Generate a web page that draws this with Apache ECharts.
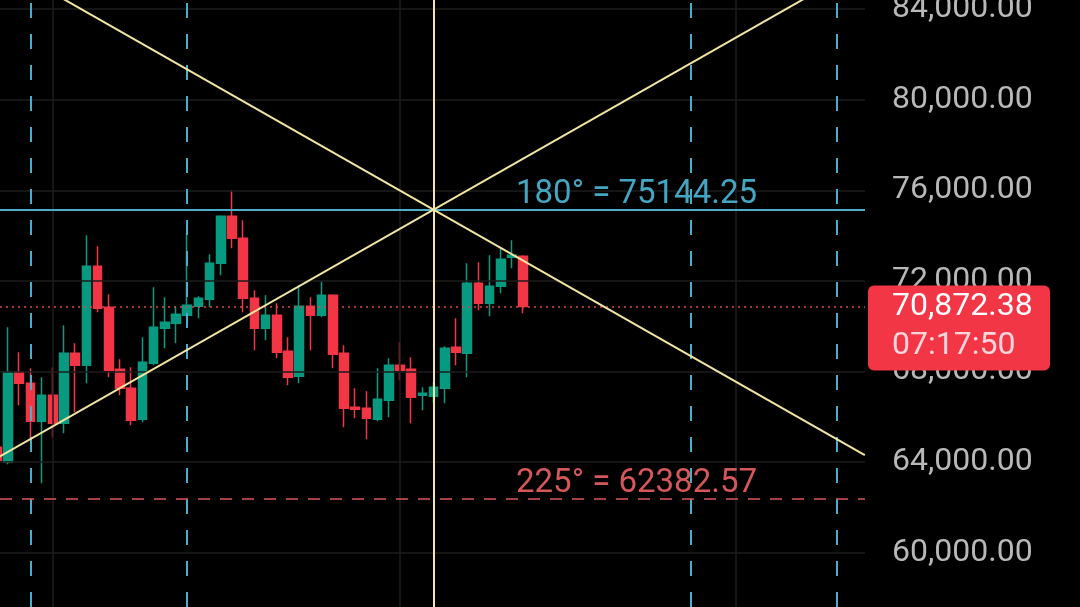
<!DOCTYPE html>
<html>
<head>
<meta charset="utf-8">
<script src="https://cdn.jsdelivr.net/npm/echarts@6/dist/echarts.min.js"></script>
<style>
html,body{margin:0;padding:0;background:#000;}
#c{width:1080px;height:607px;}
</style>
</head>
<body>
<div id="c"></div>
<script>
// ---- data ----
const opens  = [64653, 63992, 67965, 67479, 65801, 66949, 65713, 68804, 68274, 72645, 70835, 68097, 67258, 65890, 68362, 69908, 70128, 70481, 70879, 71188, 72777, 74852, 73881, 71232, 69908, 70481, 68892, 67788, 70879, 70481, 71364, 68804, 66420, 66375, 65890, 66729, 68274, 68097, 66949, 66905, 67258, 69069, 68804, 71894, 71011, 71762, 73042, 73087];
const closes = [64079, 67965, 67479, 65801, 66949, 65713, 68804, 68274, 72645, 70790, 68053, 67258, 65845, 68406, 69952, 70172, 70525, 70923, 71232, 72777, 74852, 73881, 71232, 69908, 70481, 68848, 67744, 70879, 70481, 71364, 68760, 66375, 66331, 65934, 66773, 68274, 68053, 66861, 67038, 67303, 69024, 68848, 71894, 71011, 71762, 72954, 73131, 70872.38];
const lows   = [63947, 63900, 66508, 64963, 63064, 65095, 65272, 66199, 67479, 70614, 67744, 66949, 65625, 65758, 68274, 69024, 69245, 70393, 70349, 70835, 72247, 73440, 70614, 68936, 69378, 68583, 67391, 67479, 68936, 70393, 68141, 65536, 65934, 65007, 65801, 65978, 67612, 65713, 66287, 66597, 66597, 68274, 67744, 70702, 70437, 71453, 72557, 70569];
const highs  = [65051, 69952, 68848, 68141, 67744, 68185, 70040, 69245, 74013, 73528, 71409, 68539, 68185, 69510, 71718, 71276, 70879, 74101, 71320, 73175, 74896, 76000, 74676, 71585, 71364, 71011, 69510, 71806, 71276, 71982, 71409, 69157, 67258, 67126, 68141, 68583, 69290, 68627, 67303, 67524, 69113, 70349, 72777, 72821, 73131, 73440, 73792, 73131];
const yTicks = [60000, 64000, 68000, 72000, 76000, 80000, 84000];
const lastPrice = 70872.38;
const countdown = '07:17:50';
const level180 = 75144.25;
const level225 = 62382.57;
const label180 = '180° = 75144.25';
const label225 = '225° = 62382.57';
const pivotIndex = 39;
const fanDownX = [-0.5, 77.5];
const fanDownY = [86259, 64310];
const fanUpX = [-0.5, 77.5];
const fanUpY = [64029, 85978];
const cycleLines = [3, 17, 62, 75];
const monthLines = [5, 36, 66];
const xMin = 0.2857, xMax = 77.518;    // visible bar-index window
const yMin = 57600, yMax = 84400;      // visible price window

// ---- build ----
const candleData = opens.map((o, i) => [i, o, closes[i], lows[i], highs[i]]);

const UP = '#089981', DOWN = '#f23645';
const BLUE = '#4aaecb', YEL = '#f2e6a2', GRID = '#1c1c1c';
const FONT = 'Roboto';

const chart = echarts.init(document.getElementById('c'), null, {renderer: 'canvas'});
const fmt = v => v.toLocaleString('en-US', {minimumFractionDigits: 2, maximumFractionDigits: 2});

chart.setOption({
  backgroundColor: '#000',
  animation: false,
  grid: {left: 0, right: 215, top: 0, bottom: 0, containLabel: false, outerBoundsMode: 'none'},
  xAxis: {type: 'value', min: xMin, max: xMax, show: false, splitLine: {show: false}},
  yAxis: {
    type: 'value', position: 'right', min: yMin, max: yMax,
    axisLine: {show: false},
    axisTick: {show: false, customValues: yTicks},
    splitLine: {show: false},
    axisLabel: {show: true, color: '#b8b8b8', fontFamily: FONT, fontSize: 32, margin: 27,
                customValues: yTicks, formatter: fmt}
  },
  series: [
    {
      type: 'line', data: [], silent: true,
      markLine: {
        silent: true, symbol: 'none', label: {show: false}, animation: false,
        data: [
          ...yTicks.map(v => ({yAxis: v, lineStyle: {color: GRID, width: 1.5, type: 'solid'}})),
          ...monthLines.map(v => ({xAxis: v, lineStyle: {color: GRID, width: 1.5, type: 'solid'}})),
          ...cycleLines.map(v => ({xAxis: v, lineStyle: {color: BLUE, width: 2, type: [15, 16]}})),
          {yAxis: level225, lineStyle: {color: '#d9575a', width: 1.5, type: [12, 10]}},
          {yAxis: lastPrice, lineStyle: {color: '#d84a50', width: 1.5, type: [2, 4]}}
        ]
      }
    },
    {
      type: 'candlestick', data: candleData, barWidth: 9,
      encode: {x: 0, y: [1, 2, 3, 4]},
      itemStyle: {color: UP, color0: DOWN, borderColor: UP, borderColor0: DOWN, borderWidth: 1.5},
      z: 3
    },
    {
      type: 'line', data: [], silent: true, z: 4,
      markLine: {
        silent: true, symbol: 'none', label: {show: false}, animation: false,
        data: [
          {yAxis: level180, lineStyle: {color: BLUE, width: 2, type: 'solid'}},
          {xAxis: pivotIndex, lineStyle: {color: YEL, width: 2, type: 'solid'}}
        ]
      }
    },
    {type: 'line', data: fanDownX.map((x, i) => [x, fanDownY[i]]),
     symbol: 'none', lineStyle: {color: YEL, width: 2}, silent: true, z: 5},
    {type: 'line', data: fanUpX.map((x, i) => [x, fanUpY[i]]),
     symbol: 'none', lineStyle: {color: YEL, width: 2}, silent: true, z: 5}
  ]
});

const y180 = chart.convertToPixel({yAxisIndex: 0}, level180);
const y225 = chart.convertToPixel({yAxisIndex: 0}, level225);
const yLast = chart.convertToPixel({yAxisIndex: 0}, lastPrice);

chart.setOption({
  graphic: [
    {type: 'text', z: 10, x: 516, y: y180 - 15,
     style: {text: label180, fill: '#45a6c4', font: '33px ' + FONT, textVerticalAlign: 'middle'}},
    {type: 'text', z: 10, x: 516, y: y225 - 15,
     style: {text: label225, fill: '#d6575a', font: '33px ' + FONT, textVerticalAlign: 'middle'}},
    {type: 'rect', z: 20, shape: {x: 868, y: yLast - 21, width: 182, height: 85, r: 6},
     style: {fill: '#f23645'}},
    {type: 'text', z: 21, x: 892, y: yLast + 0.5,
     style: {text: fmt(lastPrice), fill: '#ffffff', font: '32px ' + FONT, textVerticalAlign: 'middle'}},
    {type: 'text', z: 21, x: 892, y: yLast + 40,
     style: {text: countdown, fill: 'rgba(255,232,236,0.9)', font: '32px ' + FONT, textVerticalAlign: 'middle'}}
  ]
});
</script>
</body>
</html>
